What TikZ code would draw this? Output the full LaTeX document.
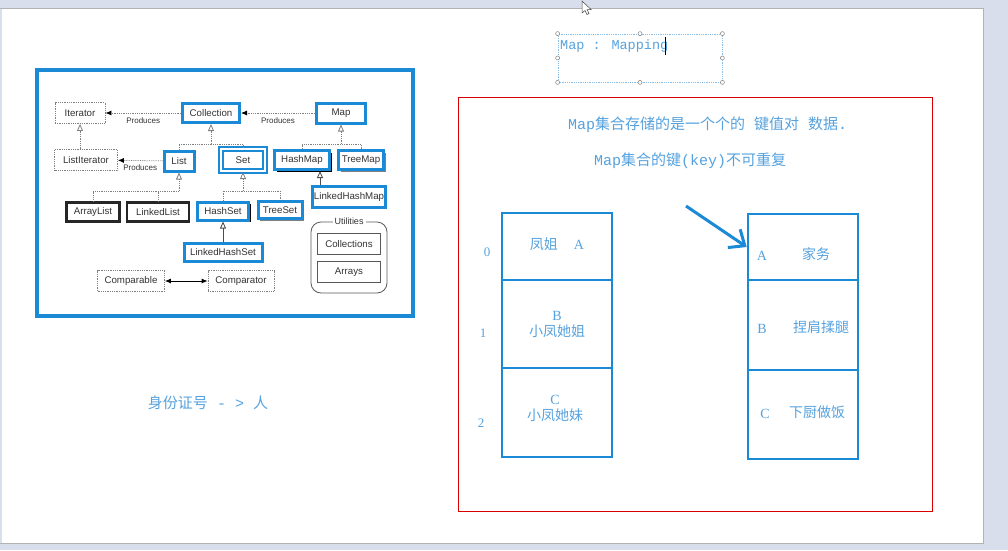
\documentclass[tikz,border=0pt]{standalone}
\usepackage{fontspec}
\setmainfont{Liberation Sans}
\newfontfamily\cjk{Noto Sans CJK SC}
\newfontfamily\mono{Liberation Mono}
\newfontfamily\serl{Liberation Serif}
\usetikzlibrary{arrows.meta,shadows}

\definecolor{uiblue}{RGB}{27,138,214}
\definecolor{txtblue}{RGB}{86,162,222}
\definecolor{chrome}{RGB}{216,222,236}

\tikzset{
  cls/.style={font=\fontsize{9.7}{10}\selectfont, text=black!80, inner sep=0pt, fill=white},
  dotcls/.style={cls, draw=gray, densely dotted, line width=0.8pt},
  bluecls/.style={cls, draw=uiblue, line width=3pt},
  blkcls/.style={cls, draw=black!85, line width=2.2pt},
  blkshadow/.style={drop shadow={shadow xshift=2pt, shadow yshift=-2pt, fill=black, opacity=1}},
  grayshadow/.style={drop shadow={shadow xshift=2pt, shadow yshift=-2pt, fill=gray, opacity=1}},
  produces/.style={densely dotted, gray, line width=0.8pt, -{Latex[black,length=6pt,width=5pt]}},
  inhdot/.style={densely dotted, gray, line width=0.8pt, -{Triangle[open,length=7pt,width=6pt]}},
  inhline/.style={gray!60!black, line width=0.8pt, -{Triangle[open,length=7pt,width=6pt]}},
  dotline/.style={densely dotted, gray, line width=0.8pt},
  plabel/.style={font=\fontsize{8}{9}\selectfont, text=black!80, inner sep=1pt},
  cell/.style={draw=uiblue, line width=2.6pt, minimum width=110pt},
  celltxt/.style={font=\cjk\fontsize{14}{16}\selectfont, text=txtblue, align=center},
  lettr/.style={font=\serl\fontsize{14}{16}\selectfont, text=txtblue},
  idx/.style={font=\serl\fontsize{13}{13}\selectfont, text=txtblue},
  head/.style={font=\cjk\fontsize{15}{16}\selectfont, text=txtblue, anchor=west, inner sep=0pt}
}

\begin{document}
\begin{tikzpicture}[x=1pt,y=-1pt]
  \useasboundingbox (0,0) rectangle (1008,550);
  % screen around the page
  \fill[chrome] (0,0) rectangle (1008,550);
  \fill[white] (2,8) rectangle (983,543);
  \draw[gray!60] (0,8) -- (983,8) -- (983,543) -- (0,543);
  \filldraw[fill=white, draw=black!70, line width=0.5pt] (582,1) -- (582,13) -- (585,10.5) -- (587,14.5) -- (589,13.5) -- (587,9.5) -- (591,9.5) -- cycle;

  % collection framework picture
  \draw[uiblue, line width=4pt] (37,70) rectangle (413,316);

  \node[dotcls, minimum width=50pt, minimum height=21pt] (itr) at (80,113) {Iterator};
  \node[bluecls, minimum width=57pt, minimum height=19pt] (coll) at (211,113) {Collection};
  \node[bluecls, minimum width=49pt, minimum height=20pt] (map) at (341,113) {Map};

  \node[dotcls, minimum width=63pt, minimum height=21pt] (litr) at (86,160) {ListIterator};
  \node[bluecls, minimum width=30pt, minimum height=20pt] (lst) at (179,161) {List};
  \node[cls, draw=uiblue, line width=2pt, double=white, double distance=1.5pt, minimum width=44pt, minimum height=22pt] (set) at (243,160) {Set};
  \node[bluecls, blkshadow, minimum width=55pt, minimum height=19pt] (hm) at (302,160) {HashMap};
  \node[bluecls, grayshadow, minimum width=45pt, minimum height=19pt] (tm) at (361,160) {TreeMap};

  \node[blkcls, minimum width=53pt, minimum height=19pt] (al) at (93,212) {ArrayList};
  \node[blkcls, minimum width=62pt, minimum height=19pt] (ll) at (158,212) {LinkedList};
  \node[bluecls, blkshadow, minimum width=51pt, minimum height=18pt] (hs) at (223,211) {HashSet};
  \node[bluecls, grayshadow, minimum width=44pt, minimum height=17pt] (ts) at (280,210) {TreeSet};
  \node[bluecls, minimum width=73pt, minimum height=21pt] (lhm) at (349,197) {LinkedHashMap};
  \node[bluecls, minimum width=78pt, minimum height=18pt] (lhs) at (223,252) {LinkedHashSet};

  \node[draw=gray!70!black, line width=0.8pt, rounded corners=10pt, minimum width=76pt, minimum height=71pt] (utl) at (349,257.5) {};
  \node[plabel, font=\fontsize{9}{10}\selectfont, fill=white, inner sep=2pt] (utltxt) at (utl.north) {Utilities};
  \node[cls, draw=gray!70!black, line width=0.8pt, minimum width=63pt, minimum height=21pt] (cols) at (349,244) {Collections};
  \node[cls, draw=gray!70!black, line width=0.8pt, minimum width=63pt, minimum height=21pt] (arr) at (349,272) {Arrays};

  \node[dotcls, minimum width=67pt, minimum height=21pt] (cmpb) at (131,281) {Comparable};
  \node[dotcls, minimum width=66pt, minimum height=21pt] (cmpr) at (241,281) {Comparator};

  \draw[produces] (coll) -- node[plabel, below=3pt] {Produces} (itr);
  \draw[produces] (map) -- node[plabel, below=3pt] {Produces} (coll);
  \draw[produces] (lst) -- node[plabel, below=3pt] {Produces} (litr);
  \draw[inhdot] (itr.south |- litr.north) -- (itr.south);

  \coordinate (jc) at (211,144);
  \draw[dotline] (lst.north) |- (set.north |- jc) -- (set.north);
  \draw[inhdot] (jc) -- (coll.south);
  \coordinate (jm) at (341,144);
  \draw[dotline] (hm.north) |- (tm.north |- jm) -- (tm.north);
  \draw[inhdot] (jm) -- (map.south);
  \coordinate (jl) at (179,191);
  \draw[dotline] (al.north) |- (jl);
  \draw[dotline] (ll.north) -- (ll.north |- jl);
  \draw[inhdot] (jl) -- (lst.south);
  \coordinate (js) at (243,191);
  \draw[dotline] (hs.north) |- (ts.north |- js) -- (ts.north);
  \draw[inhdot] (js) -- (set.south);
  \coordinate (x320) at (320,0);
  \draw[inhline] (lhm.north -| x320) -- (hm.south -| x320);
  \draw[inhline] (lhs.north) -- (hs.south);
  \draw[black, line width=0.8pt, {Latex[length=6pt,width=5pt]}-{Latex[length=6pt,width=5pt]}] (cmpb) -- (cmpr);

  \node[font=\cjk\fontsize{15}{16}\selectfont, text=txtblue] (idcard) at (208,403) {身份证号{\mono\ -\ >\ }人};

  % text box with handles
  \node[draw=txtblue!70, densely dotted, line width=0.8pt, minimum width=164pt, minimum height=48pt] (mbox) at (640,58) {};
  \foreach \a in {north west, north, north east, west, east, south west, south, south east} {
    \filldraw[fill=white, draw=gray, line width=0.5pt] (mbox.\a) circle (2pt);
  }
  \node[font=\mono\fontsize{13.5}{14}\selectfont, text=txtblue, anchor=west, inner sep=0pt] (mtxt) at (560,46) {Map : Mapping};
  \draw[black, line width=1pt] (665,37) -- (665,55);

  % map explanation
  \draw[red!85!black, line width=0.8pt] (458,97) rectangle (932,511);
  \node[head] (t1) at (568,125) {{\mono Map}集合存储的是一个个的{\mono\ }键值对{\mono\ }数据{\mono .}};
  \node[head] (t2) at (594,161) {{\mono Map}集合的键{\mono (key)}不可重复};

  \node[cell, minimum height=67pt] (k0) at (557,246.5) {};
  \node[cell, minimum height=88pt] (k1) at (557,324) {};
  \node[cell, minimum height=89pt] (k2) at (557,412.5) {};
  \node[cell, minimum height=66pt] (v0) at (803,247) {};
  \node[cell, minimum height=90pt] (v1) at (803,325) {};
  \node[cell, minimum height=89pt] (v2) at (803,414.5) {};

  \node[idx] (i0) at (487,252) {0};
  \node[idx] (i1) at (483,333) {1};
  \node[idx] (i2) at (481,423) {2};

  \node[celltxt] (k0t) at (557,244) {凤姐\hspace{16pt}{\serl A}};
  \node[celltxt] (k1t) at (557,324) {{\serl B}\\小凤她姐};
  \node[celltxt] (k2t) at (555,408) {{\serl C}\\小凤她妹};

  \node[lettr] (v0k) at (762,256) {A};
  \node[celltxt] (v0t) at (816,254) {家务};
  \node[lettr] (v1k) at (762,329) {B};
  \node[celltxt] (v1t) at (821,327) {捏肩揉腿};
  \node[lettr] (v2k) at (765,414) {C};
  \node[celltxt] (v2t) at (817,412) {下厨做饭};

  \coordinate (astart) at (686,206);
  \draw[uiblue, line width=3pt, -{Straight Barb[length=13pt,width=22pt]}] (astart) -- (v0.west);
\end{tikzpicture}
\end{document}
